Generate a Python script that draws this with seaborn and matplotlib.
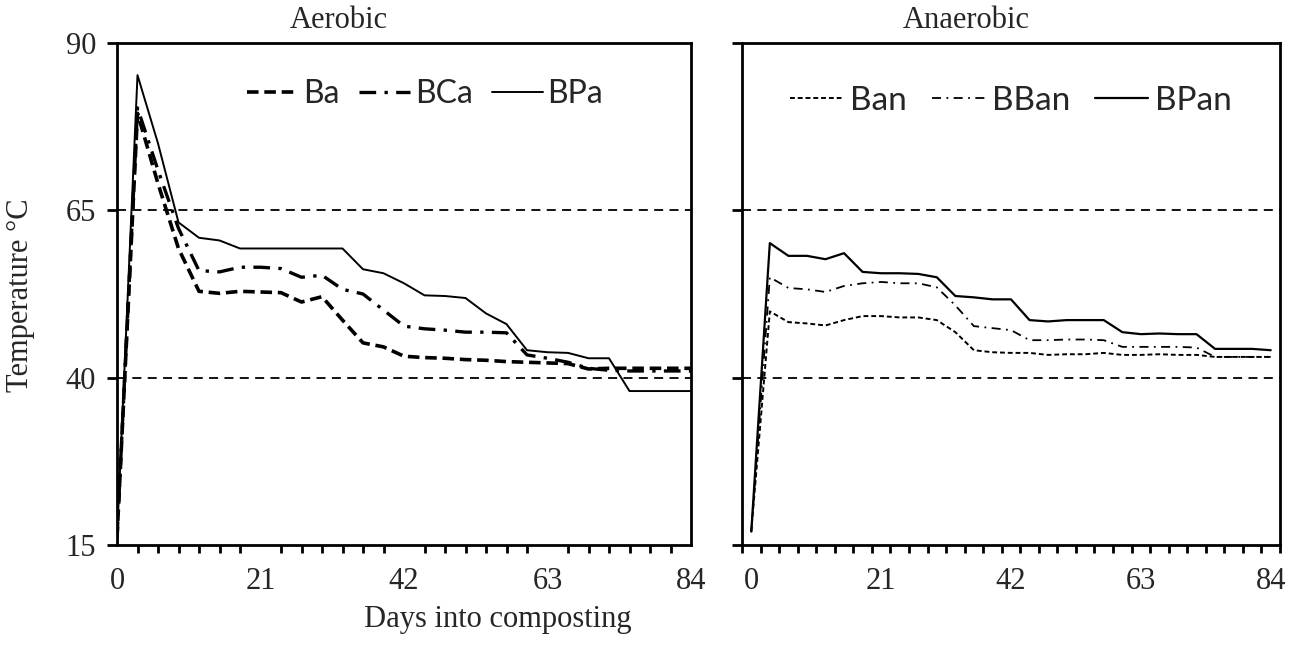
import numpy as np
import pandas as pd
import matplotlib
matplotlib.use("Agg")
import matplotlib.pyplot as plt
import seaborn as sns

days = list(range(0, 85, 3))

# Aerobic
ba = [16, 79.5, 69.0, 59.3, 52.9, 52.6, 52.9, 52.8, 52.7, 51.3, 52.1, 48.6, 45.2, 44.6, 43.2,
      43.0, 42.9, 42.7, 42.6, 42.4, 42.3, 42.2, 42.1, 41.3, 41.4, 41.4, 41.4, 41.4, 41.4]
bca = [16, 80.3, 71.0, 62.3, 56.0, 55.8, 56.5, 56.5, 56.3, 55.0, 55.3, 53.2, 52.5, 50.1, 47.7,
       47.3, 47.1, 46.8, 46.8, 46.7, 43.4, 42.9, 42.3, 41.4, 41.1, 41.0, 41.0, 41.0, 41.0]
bpa = [16, 85.2, 75.0, 63.2, 60.9, 60.5, 59.3, 59.3, 59.3, 59.3, 59.3, 59.3, 56.2, 55.6, 54.1,
       52.3, 52.2, 51.9, 49.6, 48.0, 44.1, 43.8, 43.7, 42.9, 42.9, 38.0, 38.0, 38.0, 38.0]

# Anaerobic
ban = [17, 49.9, 48.3, 48.1, 47.8, 48.6, 49.2, 49.2, 49.0, 49.0, 48.6, 46.8, 44.1, 43.8, 43.7,
       43.7, 43.4, 43.5, 43.5, 43.7, 43.4, 43.4, 43.5, 43.4, 43.4, 43.1, 43.1, 43.1, 43.1]
bban = [17, 55.0, 53.4, 53.2, 52.8, 53.7, 54.1, 54.3, 54.1, 54.1, 53.5, 50.8, 47.7, 47.4, 47.1,
        45.6, 45.6, 45.7, 45.7, 45.6, 44.6, 44.6, 44.6, 44.6, 44.5, 43.1, 43.1, 43.1, 43.1]
bpan = [17, 60.1, 58.2, 58.2, 57.7, 58.6, 55.8, 55.6, 55.6, 55.5, 55.0, 52.2, 52.0, 51.7, 51.7,
        48.6, 48.4, 48.6, 48.6, 48.6, 46.8, 46.5, 46.6, 46.5, 46.5, 44.3, 44.3, 44.3, 44.1]

ref_lines = [65, 40]
y_ticks = [15, 40, 65, 90]
x_labels = [0, 21, 42, 63, 84]

sns.set_style("ticks")
plt.rcParams['font.family'] = ['Liberation Serif', 'DejaVu Serif']

fig = plt.figure(figsize=(13.06, 6.52), dpi=100)
ax1 = fig.add_axes([117 / 1306, 107 / 652, 574 / 1306, 502 / 652])
ax2 = fig.add_axes([742 / 1306, 107 / 652, 538 / 1306, 502 / 652])

aer = [("Ba", ba, (0, (3.2, 1.6)), 2.6),
       ("BCa", bca, (0, (5, 2.5, 1, 2.5)), 2.4),
       ("BPa", bpa, "-", 1.4)]
ana = [("Ban", ban, (0, (2.5, 1.5)), 1.4),
       ("BBan", bban, (0, (5, 3, 1, 3)), 1.3),
       ("BPan", bpan, "-", 1.6)]

for ax, series in [(ax1, aer), (ax2, ana)]:
    for y in ref_lines:
        ax.axhline(y, color="black", lw=1.3, ls=(0, (5, 3.5)), zorder=1)
    for name, vals, ls, lw in series:
        sns.lineplot(x=days, y=vals, ax=ax, color="black", linestyle=ls, linewidth=lw, label=name)
    ax.set_ylim(15, 90)
    ax.set_yticks(y_ticks)
    for s in ax.spines.values():
        s.set_linewidth(2)
        s.set_color("black")
    ax.tick_params(axis="both", which="both", direction="out", width=2, color="black",
                   labelsize=22)
    ax.tick_params(axis="y", length=7, pad=8)
    ax.tick_params(axis="x", which="major", length=0, pad=16)
    ax.tick_params(axis="x", which="minor", length=6)
    ax.set_xlabel("")
    ax.set_ylabel("")

ax1.legend(loc="upper center", bbox_to_anchor=(0.537, 0.985), ncol=3, frameon=False,
           handlelength=1.6, handletextpad=0.15, columnspacing=0.6,
           prop={"family": "Lato", "size": 23})
ax2.legend(loc="upper center", bbox_to_anchor=(0.5, 0.975), ncol=3, frameon=False,
           handlelength=1.6, handletextpad=0.2, columnspacing=0.75,
           prop={"family": "Lato", "size": 24})

ax1.set_xlim(0, 84)
ax1.set_xticks(x_labels)
ax1.set_xticks(np.arange(0, 85, 3), minor=True)

ax2.set_xlim(-1.5, 85.5)
ax2.set_xticks(x_labels)
ax2.set_xticks(np.arange(-1.5, 86, 3), minor=True)
ax2.set_yticklabels([])

fig.text(339 / 1306, 1 - 21 / 652, "Aerobic", ha="center", va="center", fontsize=22)
fig.text(966 / 1306, 1 - 21 / 652, "Anaerobic", ha="center", va="center", fontsize=22)
fig.text(498 / 1306, 1 - 620 / 652, "Days into composting", ha="center", va="center", fontsize=22)
fig.text(21 / 1306, 1 - 295 / 652, "Temperature \u00b0C", ha="center", va="center",
         rotation=90, fontsize=22)

fig.savefig("out.png", dpi=100)
